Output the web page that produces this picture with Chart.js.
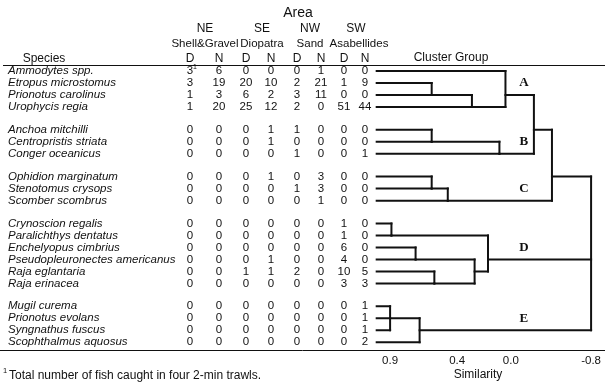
<!DOCTYPE html>
<html>
<head>
<meta charset="utf-8">
<script src="https://cdn.jsdelivr.net/npm/chart.js@4/dist/chart.umd.min.js"></script>
<style>
  body { margin: 0; background: #fff; }
  #wrap { width: 605px; height: 384px; }
</style>
</head>
<body>
<div id="wrap"><canvas id="chart" width="605" height="384"></canvas></div>
<script>
// Table data: species rows and catches by area (D = day, N = night).
const species = [
    'Ammodytes spp.', 'Etropus microstomus', 'Prionotus carolinus', 'Urophycis regia',
    'Anchoa mitchilli', 'Centropristis striata', 'Conger oceanicus',
    'Ophidion marginatum', 'Stenotomus crysops', 'Scomber scombrus',
    'Crynoscion regalis', 'Paralichthys dentatus', 'Enchelyopus cimbrius',
    'Pseudopleuronectes americanus', 'Raja eglantaria', 'Raja erinacea',
    'Mugil curema', 'Prionotus evolans', 'Syngnathus fuscus', 'Scophthalmus aquosus'
];
const groupSizes = [4, 3, 3, 6, 4];
const areas = ['NE', 'SE', 'NW', 'SW'];
const habitats = ['Shell&Gravel', 'Diopatra', 'Sand', 'Asabellides'];

const neD = [3, 3, 1, 1, 0, 0, 0, 0, 0, 0, 0, 0, 0, 0, 0, 0, 0, 0, 0, 0];
const neN = [6, 19, 3, 20, 0, 0, 0, 0, 0, 0, 0, 0, 0, 0, 0, 0, 0, 0, 0, 0];
const seD = [0, 20, 6, 25, 0, 0, 0, 0, 0, 0, 0, 0, 0, 0, 1, 0, 0, 0, 0, 0];
const seN = [0, 10, 2, 12, 1, 1, 0, 1, 0, 0, 0, 0, 0, 1, 1, 0, 0, 0, 0, 0];
const nwD = [0, 2, 3, 2, 1, 0, 1, 0, 1, 0, 0, 0, 0, 0, 2, 0, 0, 0, 0, 0];
const nwN = [1, 21, 11, 0, 0, 0, 0, 3, 3, 1, 0, 0, 0, 0, 0, 0, 0, 0, 0, 0];
const swD = [0, 1, 0, 51, 0, 0, 0, 0, 0, 0, 1, 1, 6, 4, 10, 3, 0, 0, 0, 0];
const swN = [0, 9, 0, 44, 0, 0, 1, 0, 0, 0, 0, 0, 0, 0, 5, 3, 1, 1, 1, 2];

// Dendrogram merges: [node, children, similarity, row whose line carries the node].
const merges = [
    ['a1', ['Etropus microstomus', 'Prionotus carolinus'], 0.59, 'Prionotus carolinus'],
    ['a2', ['a1', 'Urophycis regia'], 0.29, 'Urophycis regia'],
    ['A', ['Ammodytes spp.', 'a2'], 0.04, 'Prionotus carolinus'],
    ['b1', ['Anchoa mitchilli', 'Centropristis striata'], 0.59, 'Centropristis striata'],
    ['B', ['b1', 'Conger oceanicus'], 0.085, 'Conger oceanicus'],
    ['AB', ['A', 'B'], -0.23, 'Anchoa mitchilli'],
    ['c1', ['Ophidion marginatum', 'Stenotomus crysops'], 0.59, 'Stenotomus crysops'],
    ['C', ['c1', 'Scomber scombrus'], 0.47, 'Scomber scombrus'],
    ['ABC', ['AB', 'C'], -0.41, 'Ophidion marginatum'],
    ['d1', ['Crynoscion regalis', 'Paralichthys dentatus'], 0.89, 'Paralichthys dentatus'],
    ['d2', ['Enchelyopus cimbrius', 'Pseudopleuronectes americanus'], 0.71, 'Pseudopleuronectes americanus'],
    ['d3', ['Raja eglantaria', 'Raja erinacea'], 0.57, 'Raja erinacea'],
    ['d4', ['d2', 'd3'], 0.27, 'Raja eglantaria'],
    ['D', ['d1', 'd4'], 0.17, 'Pseudopleuronectes americanus'],
    ['e1', ['Mugil curema', 'Prionotus evolans', 'Syngnathus fuscus'], 0.90, 'Prionotus evolans'],
    ['E', ['e1', 'Scophthalmus aquosus'], 0.68, 'Syngnathus fuscus'],
    ['root', ['ABC', 'D', 'E'], -0.80, null]
];
const clusterNames = ['A', 'B', 'C', 'D', 'E'];
const tickValues = [0.9, 0.4, 0.0, -0.8];
const tickLabels = ['0.9', '0.4', '0.0', '-0.8'];

// The similarity axis is compressed below zero, so map it piecewise.
const warp = (s) => (s >= 0 ? 1 - s : 1 - s * 0.748);

// Row positions, with a gap between cluster groups.
const rowY = [];
groupSizes.forEach((n, g) => {
    for (let i = 0; i < n; i++) rowY.push(rowY.length + g * 0.9);
});

const pos = {};
species.forEach((sp, i) => { pos[sp] = { s: 1.0, y: rowY[i] }; });
const segments = [];
merges.forEach(([name, kids, sim, row]) => {
    const ks = kids.map((k) => pos[k]);
    ks.forEach((k) => segments.push([[k.s, k.y], [sim, k.y]]));
    const ys = ks.map((k) => k.y);
    segments.push([[sim, Math.min(...ys)], [sim, Math.max(...ys)]]);
    pos[name] = { s: sim, y: row ? pos[row].y : null };
});

const INK = '#111';
const colX = [190, 219, 246, 271, 297, 321, 344, 365];
const columns = [neD, neN, seD, seN, nwD, nwN, swD, swN];

const tablePlugin = {
    id: 'table',
    afterDraw(chart) {
        const ctx = chart.ctx;
        const y = chart.scales.y;
        const x = chart.scales.x;
        const area = chart.chartArea;
        ctx.save();
        ctx.fillStyle = INK;
        ctx.strokeStyle = INK;
        ctx.textBaseline = 'middle';
        ctx.textAlign = 'center';

        ctx.font = '14px "Liberation Sans"';
        ctx.fillText('Area', 298, 13);
        ctx.font = '12px "Liberation Sans"';
        [205, 262, 310, 356].forEach((cx, i) => ctx.fillText(areas[i], cx, 29));
        ctx.font = '11.5px "Liberation Sans"';
        [205, 262, 310, 359].forEach((cx, i) => ctx.fillText(habitats[i], cx, 44));
        ctx.font = '12px "Liberation Sans"';
        ctx.fillText('Species', 44, 59);
        colX.forEach((cx, i) => ctx.fillText(i % 2 ? 'N' : 'D', cx, 59));
        ctx.fillText('Cluster Group', 451, 58);

        // header and bottom rules
        ctx.lineWidth = 1;
        ctx.beginPath();
        ctx.moveTo(3, 65.5);
        ctx.lineTo(605, 65.5);
        ctx.moveTo(0, Math.round(area.bottom) + 0.5);
        ctx.lineTo(605, Math.round(area.bottom) + 0.5);
        ctx.stroke();

        species.forEach((sp, i) => {
            const py = y.getPixelForValue(rowY[i]);
            ctx.textAlign = 'left';
            ctx.font = 'italic 11.5px "Liberation Sans"';
            ctx.fillText(sp, 8, py);
            ctx.textAlign = 'center';
            ctx.font = '11.5px "Liberation Sans"';
            columns.forEach((col, c) => ctx.fillText(String(col[i]), colX[c], py));
        });
        // footnote marker on the first count
        ctx.font = '7px "Liberation Sans"';
        ctx.fillText('1', colX[0] + 5, y.getPixelForValue(rowY[0]) - 4);

        // cluster letters
        ctx.font = 'bold 13px "Liberation Serif"';
        clusterNames.forEach((c) => {
            ctx.fillText(c, x.getPixelForValue(warp(-0.13)), y.getPixelForValue(pos[c].y - 1));
        });

        ctx.font = '12px "Liberation Sans"';
        ctx.fillText('Similarity', 478, 375);

        ctx.textAlign = 'left';
        ctx.font = '7.5px "Liberation Sans"';
        ctx.fillText('1', 3, 371);
        ctx.font = '12px "Liberation Sans"';
        ctx.fillText('Total number of fish caught in four 2-min trawls.', 9, 376);
        ctx.restore();
    }
};

Chart.defaults.font.family = '"Liberation Sans", Arial, sans-serif';
Chart.defaults.color = INK;

new Chart(document.getElementById('chart'), {
    type: 'scatter',
    data: {
        datasets: segments.map((seg) => ({
            data: seg.map(([s, yy]) => ({ x: warp(s), y: yy })),
            showLine: true,
            borderColor: INK,
            borderWidth: 2,
            borderCapStyle: 'square',
            pointRadius: 0,
            fill: false
        }))
    },
    options: {
        responsive: false,
        animation: false,
        events: [],
        layout: { padding: { left: 374, right: 0, top: 66, bottom: 12 } },
        plugins: { legend: { display: false }, tooltip: { enabled: false } },
        scales: {
            x: {
                type: 'linear',
                min: -0.02,
                max: 1.69,
                grid: { display: false, drawTicks: false },
                border: { display: false },
                afterBuildTicks: (scale) => {
                    scale.ticks = tickValues.map((v) => ({ value: warp(v) }));
                },
                ticks: {
                    autoSkip: false,
                    maxRotation: 0,
                    padding: 4,
                    font: { size: 11.5 },
                    callback: (v, i) => tickLabels[i]
                }
            },
            y: {
                type: 'linear',
                display: false,
                reverse: true,
                min: -0.415,
                max: 23.26
            }
        }
    },
    plugins: [tablePlugin]
});
</script>
</body>
</html>
